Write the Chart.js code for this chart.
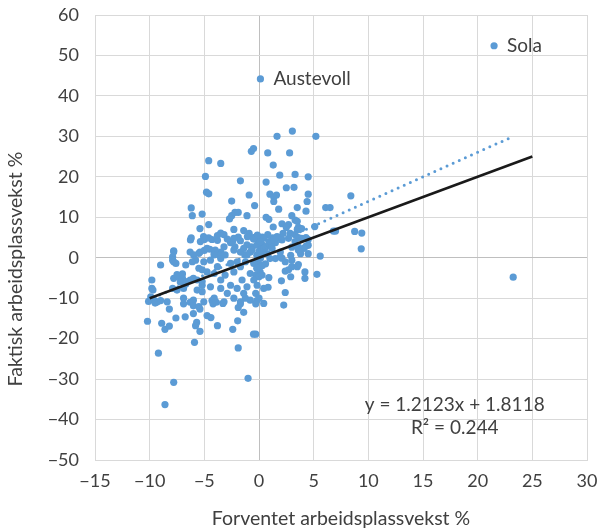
<!DOCTYPE html>
<html>
<head>
<meta charset="utf-8">
<script src="https://cdn.jsdelivr.net/npm/chart.js@4"></script>
<style>
  html, body { margin: 0; padding: 0; background: #fff; }
  #wrap { width: 598px; height: 530px; }
</style>
</head>
<body>
<div id="wrap"><canvas id="vekstChart" width="598" height="530"></canvas></div>
<script>
// Forventet (x) og faktisk (y) arbeidsplassvekst i %, per kommune
const forventet = [
  -0.7, -0.5, -4.6, -3.5, -4.9, -1.7, -4.8, -4.6, -0.9, -2.5, -6.2, -0.4, -6.1, -5.2, -2.7, -2.5, -2.2, -1.9, -1.1, -4.6,
  -5.4, -2.3, -1.4, -0.9, -0.5, -3.5, -3.2, -6.2, -5.0, -4.6, -4.3, -3.8, -1.9, -2.6, -2.4, -1.1, -0.7, -0.2, -7.8, -6.3,
  -5.4, -5.0, -4.5, -4.1, -3.5, -3.6, -2.2, -1.7, -1.3, -0.8, -7.9,
  1.65, 3.05, 5.2, 0.8, 2.8, 1.3, 1.9, 3.3, 4.5, 0.65, 2.5, 3.2, 1.0, 1.35, 1.6, 4.5, 1.35, 4.4, 8.4, 1.8,
  3.5, 4.3, 6.1, 6.5, 3.0, 0.65, 0.9, 3.3, 3.5, 2.1, 2.7, 2.5, 1.3, 3.6, 3.5, 3.9, 5.1, 6.8, 7.0, 8.75,
  9.4, -0.3, 0.3, 0.8, 1.25, 1.75, 2.05, 2.2, 2.85, 3.3, 3.6, 4.3, 4.5, 0.3, 0.65, 1.0, 1.5, 3.0, 3.6, 4.3,
  9.35, 5.6, 1.95, 2.9, 3.8, 4.5, -0.2, 0.3, 0.75,
  -0.03, 0.43, 0.9, 1.35, 0.58, 1.2, 0.13, 1.65, 2.1, 2.7, 3.3, 3.9, 4.5, 4.1, 3.6, -0.3, 0.0, -0.2, 0.1, -0.3,
  0.0, 2.1, 2.4, 3.0, 3.0, 3.5, 3.6, 0.9, 2.4, 2.7, 2.9, 4.2, 4.2, 5.3, 2.05, 0.83, 2.4, -0.3, 2.26, -0.2,
  -0.3, -0.3, 0.6, 0.3, 1.5, 1.0, 1.95,
  -6.27, -5.36, -7.8, -5.97, -5.8, -6.1, -5.5, -7.9, -7.8, -7.6, -9.0, -6.7, -5.5, -5.2, -7.8, -7.3, -7.0, -6.7, -6.3, -6.0,
  -5.66, -5.2, -9.8, -9.8, -9.7, -7.9, -7.5, -6.9, -5.66, -5.2, -9.9, -9.6, -9.3, -8.4, -6.9, -6.0, -5.05,
  -10.1, -9.5, -9.0, -10.2, -8.9, -8.6, -8.2, -9.2, -7.8, -8.6, -8.2, -7.6, -7.5, -7.0, -7.2, -6.7, -6.9, -6.75, -6.3, -6.0,
  -6.0, -5.5, -5.4, -5.7, -5.8, -5.4, -5.9, -4.75, -4.4, -4.3, -4.2, -3.9, -3.8, -3.3, -2.4, -1.95, -1.9, -1.7, -1.4, -1.25,
  -0.5, -1.9, -1.0,
  -5.07, -3.8, -2.9, -2.3, -1.7, -1.06, -0.5, 0.13, -0.15, -4.75, -4.0, -3.2, -2.3, -1.4, -0.63, 0.0, -4.1, -3.1, -1.1, 0.43,
  -5.05, -4.44, -3.5, -2.6, -2.0, -1.24, -0.48, 0.13, -3.8, -1.7, -0.17, -4.75, -4.1, -3.1, -2.3, -0.8, 0.28, -3.5, -1.55, -0.48,
  -5.2, -4.44, -3.5, -2.6, -2.0, -1.1, -0.17, 0.43, -2.9, -1.4, -4.1, -3.2, -2.3, -1.7, -0.8, 0.0, 0.43,
  23.25
];
const faktisk = [
  26.3, 27.0, 24.0, 23.3, 20.1, 19.0, 16.2, 15.8, 15.5, 14.0, 12.3, 12.9, 10.4, 10.8, 9.6, 10.4, 11.2, 11.2, 10.4, 8.2,
  7.2, 7.0, 6.7, 6.0, 5.0, 6.1, 5.7, 4.9, 4.5, 4.9, 4.5, 4.3, 5.1, 3.7, 4.1, 3.2, 2.7, 3.1, 1.7, 1.4,
  1.4, 1.8, 2.1, 1.0, 1.4, 0.6, 2.7, 1.4, 0.7, 1.4, 0.2,
  30.0, 31.3, 30.0, 25.9, 25.9, 22.9, 20.4, 20.6, 20.0, 18.7, 17.3, 17.4, 15.7, 15.0, 15.5, 15.7, 13.9, 13.9, 15.3, 12.0,
  12.4, 11.5, 12.4, 12.4, 10.4, 10.0, 9.5, 9.3, 9.0, 8.4, 8.2, 7.5, 7.6, 7.5, 7.0, 7.2, 7.7, 6.6, 6.6, 6.5,
  6.1, 5.1, 5.1, 5.7, 4.9, 5.0, 4.5, 6.0, 6.0, 5.7, 5.0, 5.0, 4.5, 3.2, 2.7, 3.2, 3.7, 2.6, 2.7, 2.9,
  2.2, 0.4, 1.4, 0.6, 1.0, 1.0, 0.6, 1.4, 1.0,
  4.4, 4.8, 4.0, 4.4, 2.7, 2.3, 1.9, 5.2, 4.4, 4.8, 4.0, 4.8, 3.1, 2.3, 1.9, -1.0, -1.8, -2.6, -3.5, -4.3,
  -4.7, -0.1, -1.0, -0.6, -2.2, -2.2, -1.7, -4.9, -3.3, -3.0, -4.7, -3.5, -5.1, -4.1, -5.7, -7.3, -8.6, -8.8, -11.7, -10.6,
  -11.4, -18.9, -1.5, -1.9, -0.2, -0.2, 0.2,
  4.4, 4.0, 1.5, 0.7, -0.6, -1.0, 1.1, -0.6, -1.0, -1.4, -1.8, -1.8, -2.6, -3.0, -5.1, -4.7, -5.1, -5.9, -5.5, -5.1,
  -5.5, -5.9, -5.5, -7.6, -8.0, -7.6, -8.0, -7.6, -8.0, -8.4, -9.7, -10.5, -10.9, -10.9, -10.0, -10.5, -10.9,
  -10.8, -11.2, -10.6, -15.7, -16.2, -17.7, -16.9, -23.6, -30.8, -36.3, -12.7, -14.9, -4.2, -4.0, -6.0, -6.5, -11.4, -14.6, -11.0, -11.9,
  -13.8, -12.1, -12.7, -16.0, -16.8, -18.2, -20.9, -14.3, -14.8, -10.6, -11.4, -11.0, -16.8, -11.3, -17.7, -15.6, -12.3, -11.4, -13.5, -10.0,
  -18.9, -22.3, -29.8,
  5.2, 5.5, 4.6, 4.8, 4.2, 5.2, 4.6, 4.0, 5.6, 2.3, 1.9, 2.7, 1.9, 2.3, 1.9, 1.5, 0.7, 0.7, 0.7, 2.3,
  -1.0, -0.6, -0.2, -1.4, -1.0, -1.0, -1.4, -0.2, -2.2, -2.2, -2.6, -3.5, -3.9, -4.3, -3.5, -3.9, -4.3, -5.5, -5.5, -5.5,
  -6.8, -7.2, -7.6, -6.8, -7.6, -7.2, -6.8, -7.6, -8.8, -8.8, -10.0, -10.9, -10.0, -10.9, -10.5, -10.0, -11.3,
  -4.8
];

// Navngitte kommuner
const navn = ["Sola", "Austevoll"];
const navnX = [21.5, 0.13];
const navnY = [52.4, 44.2];

// Trendlinje (Excel) og referanselinje y = x
const trendStigning = 1.2123;
const trendKonstant = 1.8118;
const refX = [-10, 25];
const refY = [-10, 25];

const xTicks = [-15, -10, -5, 0, 5, 10, 15, 20, 25, 30];
const yTicks = [-50, -40, -30, -20, -10, 0, 10, 20, 30, 40, 50, 60];

const alleX = forventet.concat(navnX);
const alleY = faktisk.concat(navnY);
const punkter = alleX.map((x, i) => ({ x: x, y: alleY[i] }));

const xMin = Math.min(...alleX);
const xMax = Math.max(...alleX);
const trendPunkter = [xMin, xMax].map(x => ({ x: x, y: trendStigning * x + trendKonstant }));
const refPunkter = refX.map((x, i) => ({ x: x, y: refY[i] }));

const tekstFarge = "#404040";
const fontNavn = "Lato, 'Open Sans', sans-serif";
const minus = v => String(v).replace("-", "\u2212");

// Tekst i plottet: kommunenavn, likning og y-aksetittel
const tekstPlugin = {
  id: "tekst",
  afterDatasetsDraw(chart) {
    const { ctx, scales } = chart;
    ctx.save();
    ctx.fillStyle = tekstFarge;
    ctx.font = "19px " + fontNavn;
    ctx.textBaseline = "middle";
    ctx.textAlign = "left";
    navn.forEach((n, i) => {
      ctx.fillText(n, scales.x.getPixelForValue(navnX[i]) + 13, scales.y.getPixelForValue(navnY[i]));
    });
    ctx.textAlign = "center";
    const ex = scales.x.getPixelForValue(17.9);
    ctx.fillText("y = " + trendStigning.toFixed(4) + "x + " + trendKonstant.toFixed(4), ex, scales.y.getPixelForValue(-36.3));
    ctx.fillText("R\u00B2 = 0.244", ex, scales.y.getPixelForValue(-42.1));

    // y-aksetittel, litt under midten som i Excel
    ctx.font = "19.5px " + fontNavn;
    ctx.translate(16, scales.y.getPixelForValue(-2.8));
    ctx.rotate(-Math.PI / 2);
    ctx.fillText("Faktisk arbeidsplassvekst %", 0, 0);
    ctx.restore();
  }
};

const gridFarge = ctx => (ctx.tick && ctx.tick.value === 0) ? "#bfbfbf" : "#d9d9d9";

new Chart(document.getElementById("vekstChart"), {
  type: "scatter",
  data: {
    datasets: [
      {
        label: "y = x",
        data: refPunkter,
        showLine: true,
        borderColor: "#1a1a1a",
        borderWidth: 2.6,
        pointRadius: 0
      },
      {
        label: "Trend",
        data: trendPunkter,
        showLine: true,
        borderColor: "#5b9bd5",
        borderWidth: 3,
        borderDash: [0, 6.7],
        borderCapStyle: "round",
        pointRadius: 0
      },
      {
        label: "Kommuner",
        data: punkter,
        backgroundColor: "#5b9bd5",
        borderWidth: 0,
        pointRadius: 3.6
      }
    ]
  },
  options: {
    responsive: false,
    animation: false,
    events: [],
    layout: { padding: { top: 15, right: 11, left: 0, bottom: 0 } },
    plugins: {
      legend: { display: false },
      tooltip: { enabled: false }
    },
    scales: {
      x: {
        type: "linear",
        min: -15,
        max: 30,
        afterBuildTicks: s => { s.ticks = xTicks.map(v => ({ value: v })); },
        afterFit: s => { s.height = 70; s.paddingLeft = 0; s.paddingRight = 0; },
        grid: { color: gridFarge, drawTicks: false },
        border: { color: "#d9d9d9" },
        ticks: {
          color: tekstFarge,
          font: { family: fontNavn, size: 18 },
          padding: 10,
          maxRotation: 0,
          callback: v => minus(v)
        },
        title: {
          display: true,
          text: "Forventet arbeidsplassvekst %",
          color: tekstFarge,
          font: { family: fontNavn, size: 19.5 },
          padding: { top: 6, bottom: 0 }
        }
      },
      y: {
        type: "linear",
        min: -50,
        max: 60,
        afterBuildTicks: s => { s.ticks = yTicks.map(v => ({ value: v })); },
        afterFit: s => { s.width = 95; s.paddingTop = 0; s.paddingBottom = 0; },
        grid: { color: gridFarge, drawTicks: false },
        border: { color: "#d9d9d9" },
        ticks: {
          color: tekstFarge,
          font: { family: fontNavn, size: 18 },
          padding: 16,
          callback: v => minus(v)
        },
        title: { display: false }
      }
    }
  },
  plugins: [tekstPlugin]
});
</script>
</body>
</html>
